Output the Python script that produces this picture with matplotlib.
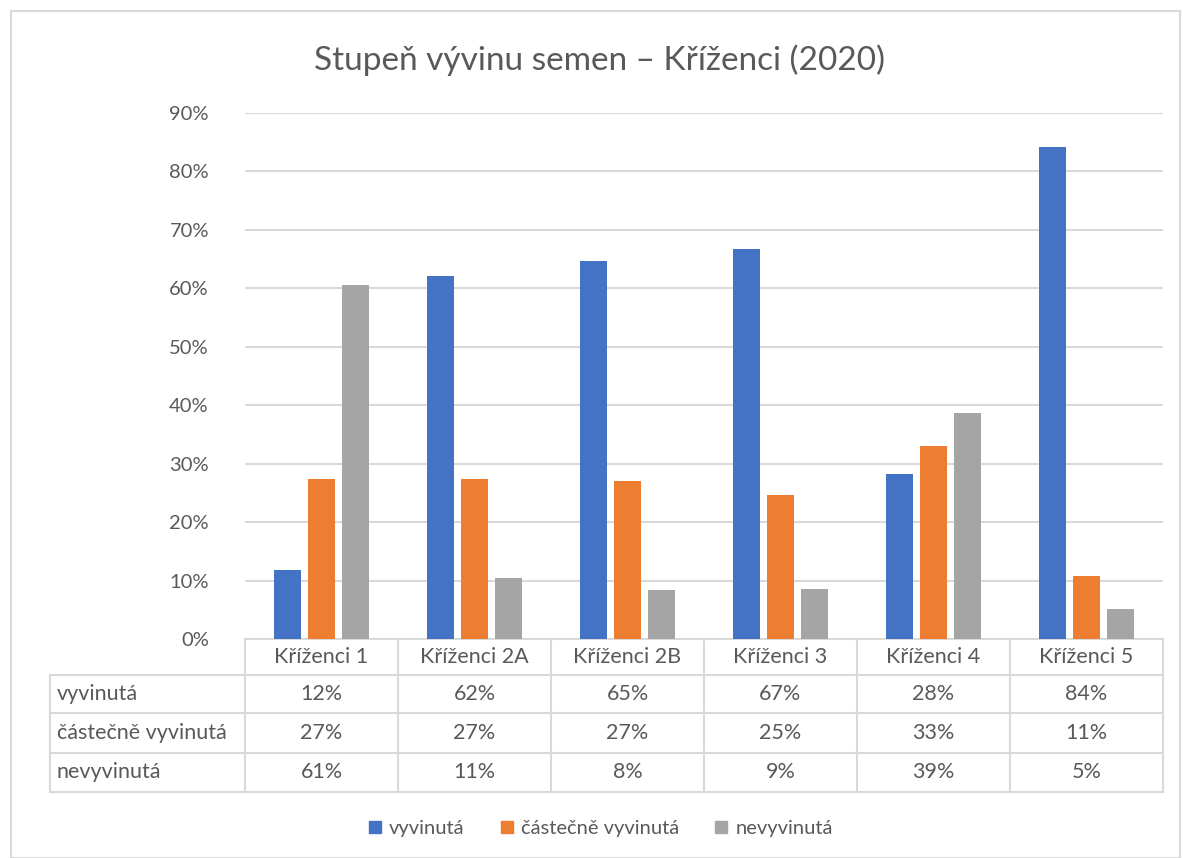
import matplotlib.pyplot as plt
import numpy as np
from matplotlib.patches import Rectangle
from matplotlib.lines import Line2D

# === DATA ===
categories = ['Kříženci 1', 'Kříženci 2A', 'Kříženci 2B', 'Kříženci 3', 'Kříženci 4', 'Kříženci 5']
series_names = ['vyvinutá', 'částečně vyvinutá', 'nevyvinutá']
vyvinuta = [11.8, 62.1, 64.6, 66.8, 28.2, 84.1]
castecne = [27.4, 27.4, 27.1, 24.6, 33.0, 10.8]
nevyvinuta = [60.6, 10.5, 8.3, 8.6, 38.6, 5.1]
table_labels = [
    ['12%', '62%', '65%', '67%', '28%', '84%'],
    ['27%', '27%', '27%', '25%', '33%', '11%'],
    ['61%', '11%', '8%', '9%', '39%', '5%'],
]
colors = ['#4472C4', '#ED7D31', '#A5A5A5']
title = 'Stupeň vývinu semen – Kříženci (2020)'

# === STYLE ===
plt.rcParams['font.family'] = ['Lato', 'DejaVu Sans']
txt = '#595959'
grid_c = '#d9d9d9'

W, H = 1183, 858
fig = plt.figure(figsize=(W / 100, H / 100), dpi=100)
ax = fig.add_axes([245 / W, 1 - 639 / H, (1163 - 245) / W, (639 - 113) / H])

# === BARS ===
x = np.arange(len(categories))
offsets = [-0.222, 0, 0.222]
for vals, off, c, name in zip([vyvinuta, castecne, nevyvinuta], offsets, colors, series_names):
    ax.bar(x + off, np.array(vals) / 100, width=0.176, color=c, label=name, zorder=3)

ax.set_xlim(-0.5, len(categories) - 0.5)
ax.set_ylim(0, 0.9)
ax.set_yticks(np.arange(0, 0.91, 0.1))
ax.set_yticklabels([f'{int(round(v * 100))}%' for v in np.arange(0, 0.91, 0.1)])
ax.tick_params(axis='y', length=0, pad=26, labelsize=14.5, labelcolor=txt)
ax.set_xticks([])
ax.grid(axis='y', color=grid_c, linewidth=1.5, zorder=0)
for s in ['top', 'right', 'left']:
    ax.spines[s].set_visible(False)
ax.spines['bottom'].set_color(grid_c)
ax.spines['bottom'].set_linewidth(1.5)
ax.set_axisbelow(True)

# === DATA TABLE (drawn under the axis) ===
def ax_y(ypix):
    return (639 - ypix) / (639 - 113)

row_edges = [ax_y(p) for p in [639, 675, 713, 753, 792]]
x_left = -0.5 + (50 - 245) / ((1163 - 245) / 6)
lk = dict(color=grid_c, linewidth=1.5, clip_on=False)
trans = ax.get_xaxis_transform()

# horizontal lines
for ye in row_edges[1:]:
    ax.plot([x_left, 5.5], [ye, ye], transform=trans, **lk)
# vertical lines
for xb in np.arange(-0.5, 6.0, 1.0):
    ax.plot([xb, xb], [row_edges[0], row_edges[-1]], transform=trans, **lk)
ax.plot([x_left, x_left], [row_edges[1], row_edges[-1]], transform=trans, **lk)

# header labels
for i, cat in enumerate(categories):
    ax.text(i, (row_edges[0] + row_edges[1]) / 2, cat, transform=trans,
            ha='center', va='center', fontsize=15.5, color=txt)
# rows
for r, (name, labels) in enumerate(zip(series_names, table_labels)):
    yc = (row_edges[r + 1] + row_edges[r + 2]) / 2
    ax.text(x_left + 0.045, yc, name, transform=trans, ha='left', va='center',
            fontsize=15.5, color=txt)
    for i, lab in enumerate(labels):
        ax.text(i, yc, lab, transform=trans, ha='center', va='center',
                fontsize=15.5, color=txt)

# === TITLE & LEGEND ===
fig.text(600 / W, 1 - 60 / H, title, ha='center', va='center', fontsize=24, color=txt)

handles = [Line2D([], [], marker='s', linestyle='none', markersize=9,
                  markerfacecolor=c, markeredgecolor=c) for c in colors]
fig.legend(handles, series_names, loc='center', bbox_to_anchor=(600 / W, 1 - 828 / H),
           ncol=3, frameon=False, fontsize=14.5, labelcolor=txt,
           handlelength=0.8, handletextpad=0.3, columnspacing=1.7)

# chart border
fig.patches.append(Rectangle((11 / W, 0), (1180 - 11) / W, 1 - 11 / H,
                             transform=fig.transFigure, fill=False,
                             edgecolor=grid_c, linewidth=1.5))

fig.savefig('out.png', dpi=100)
